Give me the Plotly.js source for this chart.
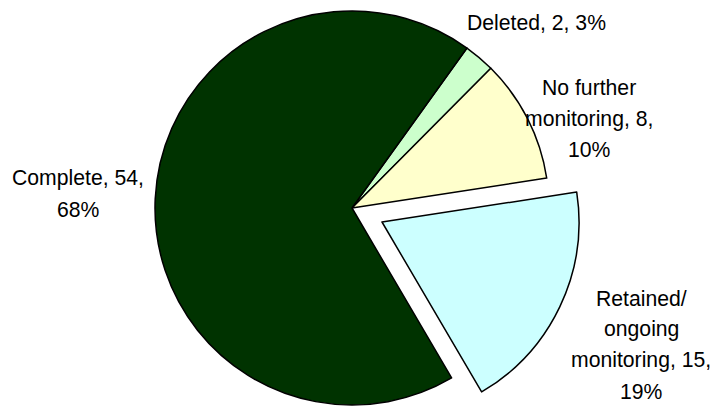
<!DOCTYPE html>
<html>
<head>
<meta charset="utf-8">
<script src="https://cdn.plot.ly/plotly-3.0.1.min.js"></script>
<style>
html, body { margin: 0; padding: 0; overflow: hidden; background: #fff; width: 717px; height: 407px; }
#chart { width: 717px; height: 440px; }
</style>
</head>
<body>
<div id="chart"></div>
<script>
// Data
var categories = ["Deleted", "No further<br>monitoring", "Retained/<br>ongoing<br>monitoring", "Complete"];
var counts = [2, 8, 15, 54];
var sliceColors = ["#CCFFCC", "#FFFFCC", "#CCFFFF", "#003300"];
var pctSeparator = [" ", "<br>", "<br>", "<br>"];

// Layout geometry (pixels)
var W = 717, H = 440;
var R = 197;
var cx = 352, cy = 208;          // pie centre
var pullDx = 30, pullDy = 14;    // exploded slice offset
var explodedIndex = 2;
var labelPos = [                 // [centre x, first line centre y]
  [536, 23],
  [589, 88],
  [641, 298],
  [78, 178]
];
var lineGap = 31;
var fontSize = 21.2;

var total = counts.reduce(function (a, b) { return a + b; }, 0);

function domainFor(x, y) {
  return {
    x: [(x - R) / W, (x + R) / W],
    y: [1 - (y + R) / H, 1 - (y - R) / H]
  };
}

var baseColors = sliceColors.map(function (c, i) { return i === explodedIndex ? "rgba(0,0,0,0)" : c; });
var baseWidths = sliceColors.map(function (c, i) { return i === explodedIndex ? 0 : 1.5; });
var pullColors = sliceColors.map(function (c, i) { return i === explodedIndex ? c : "rgba(0,0,0,0)"; });
var pullWidths = sliceColors.map(function (c, i) { return i === explodedIndex ? 1.5 : 0; });

var common = {
  type: "pie",
  labels: categories,
  values: counts,
  sort: false,
  direction: "clockwise",
  rotation: 35.7,
  textinfo: "none",
  hoverinfo: "skip",
  showlegend: false
};

var t1 = Object.assign({}, common, {
  marker: { colors: baseColors, line: { color: "#000", width: baseWidths } },
  domain: domainFor(cx, cy)
});
var t2 = Object.assign({}, common, {
  marker: { colors: pullColors, line: { color: "#000", width: pullWidths } },
  domain: domainFor(cx + pullDx, cy + pullDy)
});

var annotations = [];
categories.forEach(function (cat, i) {
  var pct = Math.round(counts[i] / total * 100);
  var txt = cat + ", " + counts[i] + "," + pctSeparator[i] + pct + "%";
  var lines = txt.split("<br>");
  lines.forEach(function (ln, k) {
    annotations.push({
      xref: "paper", yref: "paper",
      x: labelPos[i][0] / W,
      y: 1 - (labelPos[i][1] + k * lineGap) / H,
      xanchor: "center", yanchor: "middle",
      text: ln,
      showarrow: false,
      font: { family: "Liberation Sans, Arial, sans-serif", size: fontSize, color: "#000" }
    });
  });
});

var layout = {
  width: W, height: H,
  margin: { l: 0, r: 0, t: 0, b: 0 },
  paper_bgcolor: "#fff",
  plot_bgcolor: "#fff",
  annotations: annotations
};

Plotly.newPlot("chart", [t1, t2], layout, { displayModeBar: false, staticPlot: true });
</script>
</body>
</html>
